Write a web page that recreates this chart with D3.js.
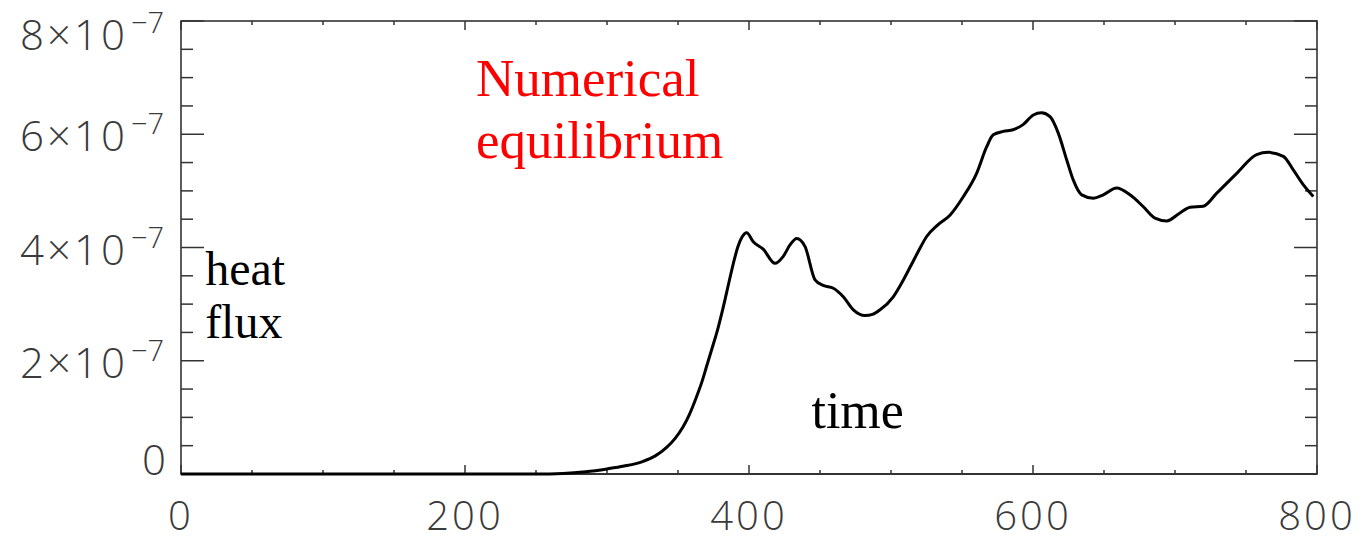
<!DOCTYPE html>
<html>
<head>
<meta charset="utf-8">
<script src="https://cdn.jsdelivr.net/npm/d3@7"></script>
<style>
html,body{margin:0;padding:0;background:#fff;}
svg{display:block;}
</style>
</head>
<body>
<svg id="chart" width="1372" height="542"></svg>
<script>
// ---- data ----
const timeValues = [0, 50, 100, 150, 200, 250, 269, 285, 300, 312, 325, 334, 342, 348, 353.5, 358, 363, 367, 370, 374, 378, 382, 386, 389, 392, 395, 398.4, 403, 410, 418.3, 424, 429, 433.6, 439.4, 446.5, 452.3, 459.4, 466.4, 473.5, 481.7, 487, 492.3, 501.6, 507, 513.4, 519, 525, 533, 541.5, 551, 560.3, 567.4, 572, 579, 586, 593, 600.2, 606, 612, 617.8, 623.7, 628.4, 634.3, 642.5, 649.5, 658.9, 668.3, 677.7, 685.9, 694.2, 703.5, 710.6, 720, 729.4, 743.5, 757.5, 765.7, 776.3, 783.3, 790.3, 797.4];
const heatFlux = [0, 0, 0, 0, 0, 0, 0.01, 0.04, 0.09, 0.14, 0.22, 0.32, 0.47, 0.63, 0.83, 1.05, 1.36, 1.64, 1.89, 2.22, 2.56, 2.96, 3.4, 3.72, 4.0, 4.18, 4.26, 4.10, 3.97, 3.72, 3.84, 4.05, 4.16, 4.02, 3.43, 3.33, 3.28, 3.13, 2.90, 2.80, 2.82, 2.90, 3.13, 3.35, 3.65, 3.92, 4.19, 4.40, 4.57, 4.90, 5.31, 5.78, 5.99, 6.05, 6.08, 6.17, 6.34, 6.38, 6.31, 6.02, 5.55, 5.19, 4.93, 4.87, 4.93, 5.05, 4.93, 4.72, 4.52, 4.47, 4.61, 4.71, 4.73, 4.96, 5.31, 5.64, 5.68, 5.61, 5.37, 5.11, 4.90].map(v => v * 1e-7);
const xTickMajor = [0, 200, 400, 600, 800];
const xTickLabels = ["0", "200", "400", "600", "800"];
const yTickMajor = [0, 2e-7, 4e-7, 6e-7, 8e-7];
const yTickMantissa = ["0", "2×10", "4×10", "6×10", "8×10"];
const yTickExponent = ["", "−7", "−7", "−7", "−7"];
const annotations = [
  {text: "Numerical", color: "#ff0000", t: 207.7, v: 6.67e-7, size: 53},
  {text: "equilibrium", color: "#ff0000", t: 207.7, v: 5.58e-7, size: 53},
  {text: "heat", color: "#000", t: 17, v: 3.33e-7, size: 48},
  {text: "flux", color: "#000", t: 17, v: 2.41e-7, size: 48},
  {text: "time", color: "#000", t: 444, v: 0.81e-7, size: 52}
];

// ---- scales ----
const svg = d3.select("#chart");
const x = d3.scaleLinear().domain([0, 800]).range([181, 1317]);
const y = d3.scaleLinear().domain([0, 8e-7]).range([474, 21]);
const axisColor = "#333";
const labelFont = "'Open Sans', 'DejaVu Sans', sans-serif";

const xMinor = d3.range(0, 801, 50);
const yMinor = d3.range(0, 8.01e-7, 0.5e-7);
const isMajorX = v => Math.abs(v % 200) < 1e-9;
const isMajorY = v => Math.abs(Math.round(v / 2e-7) * 2e-7 - v) < 1e-12;

const g = svg.append("g");

// box
g.append("rect")
  .attr("x", x(0)).attr("y", y(8e-7))
  .attr("width", x(800) - x(0)).attr("height", y(0) - y(8e-7))
  .attr("fill", "none").attr("stroke", axisColor).attr("stroke-width", 1.6);
g.append("line")
  .attr("x1", x(0)).attr("x2", x(800)).attr("y1", y(0)).attr("y2", y(0))
  .attr("stroke", axisColor).attr("stroke-width", 2.2);

// x ticks (bottom & top)
xMinor.forEach(v => {
  const len = isMajorX(v) ? 9 : 4;
  g.append("line").attr("x1", x(v)).attr("x2", x(v))
    .attr("y1", y(0)).attr("y2", y(0) - len)
    .attr("stroke", axisColor).attr("stroke-width", 1.5);
  g.append("line").attr("x1", x(v)).attr("x2", x(v))
    .attr("y1", y(8e-7)).attr("y2", y(8e-7) + len)
    .attr("stroke", axisColor).attr("stroke-width", 1.5);
});
// y ticks (left & right)
yMinor.forEach(v => {
  const len = isMajorY(v) ? 23 : 12;
  g.append("line").attr("x1", x(0)).attr("x2", x(0) + len)
    .attr("y1", y(v)).attr("y2", y(v))
    .attr("stroke", axisColor).attr("stroke-width", 1.5);
  g.append("line").attr("x1", x(800)).attr("x2", x(800) - len)
    .attr("y1", y(v)).attr("y2", y(v))
    .attr("stroke", axisColor).attr("stroke-width", 1.5);
});

// x labels
xTickMajor.forEach((v, i) => {
  g.append("text").attr("x", x(v)).attr("y", 530)
    .attr("text-anchor", "middle")
    .attr("font-family", labelFont).attr("font-weight", 300)
    .attr("font-size", 40).attr("letter-spacing", 3)
    .attr("fill", "#3a3a3a")
    .text(xTickLabels[i]);
});
// y labels
yTickMajor.forEach((v, i) => {
  const base = Math.max(50, Math.min(475, y(v) + 17));
  if (yTickExponent[i] === "") {
    g.append("text").attr("x", 166).attr("y", base)
      .attr("text-anchor", "end")
      .attr("font-family", labelFont).attr("font-weight", 300)
      .attr("font-size", 42).attr("fill", "#3a3a3a")
      .text(yTickMantissa[i]);
  } else {
    g.append("text").attr("x", 128).attr("y", base)
      .attr("text-anchor", "end")
      .attr("font-family", labelFont).attr("font-weight", 300)
      .attr("font-size", 42).attr("letter-spacing", 3).attr("fill", "#3a3a3a")
      .text(yTickMantissa[i]);
    g.append("text").attr("x", 131).attr("y", base - 17)
      .attr("text-anchor", "start")
      .attr("font-family", labelFont).attr("font-weight", 300)
      .attr("font-size", 29).attr("fill", "#3a3a3a")
      .text(yTickExponent[i]);
  }
});

// curve
const data = timeValues.map((t, i) => ({t, v: heatFlux[i]}));
const line = d3.line().x(d => x(d.t)).y(d => y(d.v)).curve(d3.curveMonotoneX);
g.append("path").datum(data)
  .attr("d", line)
  .attr("fill", "none").attr("stroke", "#000").attr("stroke-width", 3)
  .attr("stroke-linejoin", "round");

// annotations
annotations.forEach(a => {
  g.append("text").attr("x", x(a.t)).attr("y", y(a.v))
    .attr("font-family", "'Liberation Serif', 'Times New Roman', serif")
    .attr("font-size", a.size).attr("fill", a.color)
    .text(a.text);
});
</script>
</body>
</html>
